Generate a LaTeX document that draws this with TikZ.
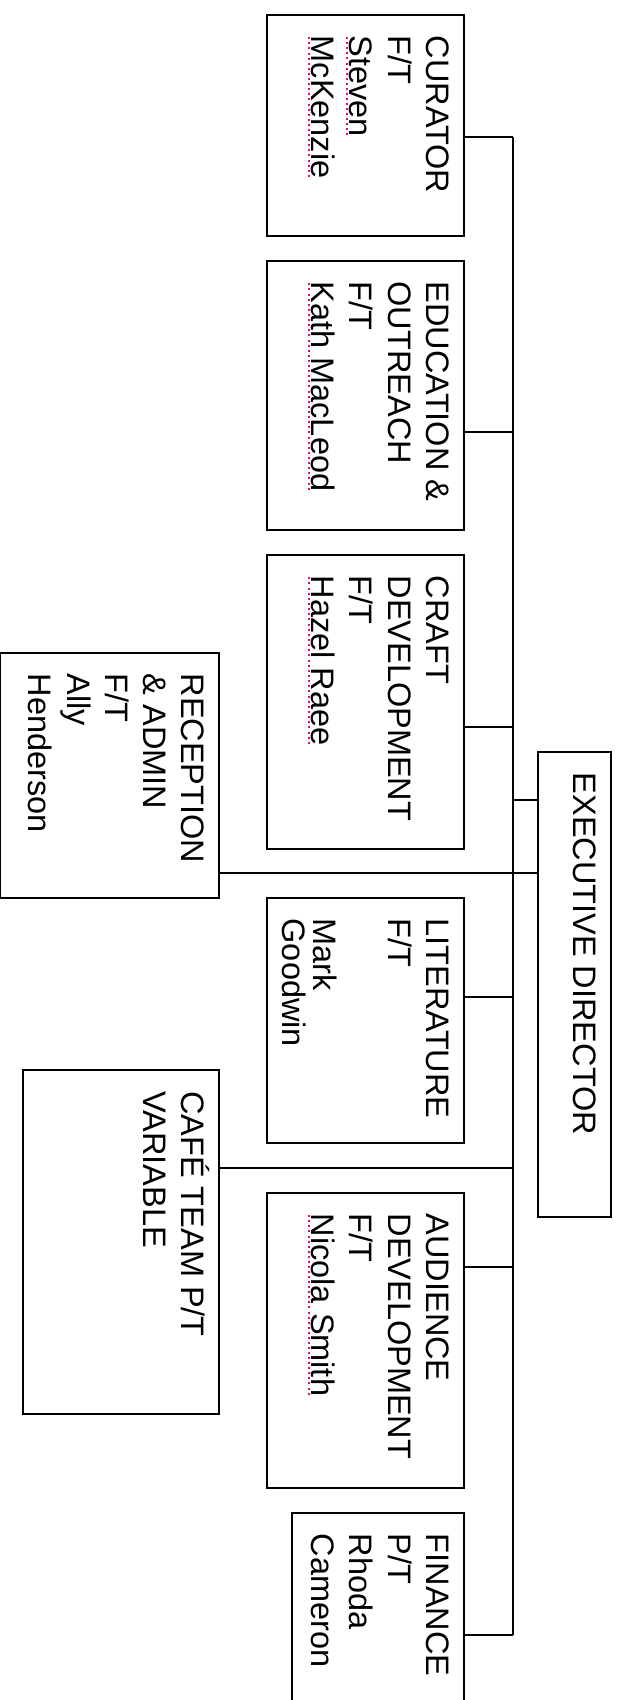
\documentclass[tikz,border=0pt]{standalone}
\usepackage{fontspec}
\setmainfont{Liberation Sans}
\newcommand\fl[1]{\rule{0pt}{\fontcharht\font`H}\smash{#1}}
\newcommand\spell[1]{\setbox0=\hbox{#1}\rlap{\raisebox{-3.6pt}{\textcolor{magenta}{\hbox to \wd0{\xleaders\hbox to 5pt{\hss\rule{2pt}{2pt}\hss}\hfill}}}}\box0}
\tikzset{
 box/.style={draw, line width=1.8pt, inner sep=0pt, outer sep=0pt, anchor=north west},
 txt/.style={rotate=-90, anchor=north west, align=left, inner sep=0pt, font=\fontsize{32.5pt}{38.3pt}\selectfont},
 wire/.style={line width=1.8pt},
}
\begin{document}
\begin{tikzpicture}[x=1pt,y=-1pt]
\useasboundingbox (0,0) rectangle (623,1700);
\coordinate (bus) at (513,0);
% boxes
\node[box, minimum width=197pt, minimum height=221pt] (cur) at (267,15) {};
\node[box, minimum width=197pt, minimum height=269pt] (edu) at (267,261) {};
\node[box, minimum width=197pt, minimum height=294pt] (craft) at (267,555) {};
\node[box, minimum width=197pt, minimum height=245pt] (lit) at (267,898) {};
\node[box, minimum width=197pt, minimum height=295pt] (aud) at (267,1193) {};
\node[box, minimum width=172pt, minimum height=200pt] (fin) at (292,1513) {};
\node[box, minimum width=219pt, minimum height=245pt] (rec) at (0,653) {};
\node[box, minimum width=196pt, minimum height=344pt] (cafe) at (23,1070) {};
\node[box, minimum width=73pt, minimum height=465pt] (exec) at (538,752) {};
% texts
\node[txt] (curT) at ([xshift=-15pt,yshift=-20.5pt]cur.north east) {\fl{CURATOR}\\F/T\\\spell{Steven}\\\spell{McKenzie}};
\node[txt] (eduT) at ([xshift=-15pt,yshift=-20.5pt]edu.north east) {\fl{EDUCATION \&}\\OUTREACH\\F/T\\\spell{Kath MacLeod}};
\node[txt] (craftT) at ([xshift=-15pt,yshift=-20.5pt]craft.north east) {\fl{CRAFT}\\DEVELOPMENT\\F/T\\\spell{Hazel Raee}};
\node[txt] (litT) at ([xshift=-15pt,yshift=-20.5pt]lit.north east) {\fl{LITERATURE}\\F/T\\[36.4pt]Mark\\[-7.3pt]Goodwin};
\node[txt] (audT) at ([xshift=-15pt,yshift=-20.5pt]aud.north east) {\fl{AUDIENCE}\\DEVELOPMENT\\F/T\\\spell{Nicola Smith}};
\node[txt] (finT) at ([xshift=-15pt,yshift=-20.5pt]fin.north east) {\fl{FINANCE}\\P/T\\Rhoda\\Cameron};
\node[txt] (recT) at ([xshift=-14.5pt,yshift=-20.5pt]rec.north east) {\fl{RECEPTION}\\\& ADMIN\\F/T\\Ally\\Henderson};
\node[txt] (cafeT) at ([xshift=-14.5pt,yshift=-21pt]cafe.north east) {\fl{CAFÉ TEAM P/T}\\VARIABLE};
\node[txt] (execT) at ([xshift=-14.5pt,yshift=-20.5pt]exec.north east) {\fl{EXECUTIVE DIRECTOR}};
% connectors
\draw[wire] ([yshift=-122pt]cur.north east) coordinate (k1) -- (k1 -| bus);
\draw[wire] ([yshift=-171pt]edu.north east) coordinate (k2) -- (k2 -| bus);
\draw[wire] ([yshift=-172pt]craft.north east) coordinate (k3) -- (k3 -| bus);
\draw[wire] ([yshift=-99pt]lit.north east) coordinate (k4) -- (k4 -| bus);
\draw[wire] ([yshift=-74pt]aud.north east) coordinate (k5) -- (k5 -| bus);
\draw[wire] ([yshift=-122pt]fin.north east) coordinate (k6) -- (k6 -| bus);
\draw[wire] ([yshift=-98pt]cafe.north east) coordinate (k7) -- (k7 -| bus);
\draw[wire] ([yshift=-220pt]rec.north east) coordinate (k8) -- (k8 -| exec.west);
\draw[wire] ([yshift=-48pt]exec.north west) coordinate (k9) -- (k9 -| bus);
\draw[wire] (k1 -| bus) -- (k6 -| bus);
\end{tikzpicture}
\end{document}
